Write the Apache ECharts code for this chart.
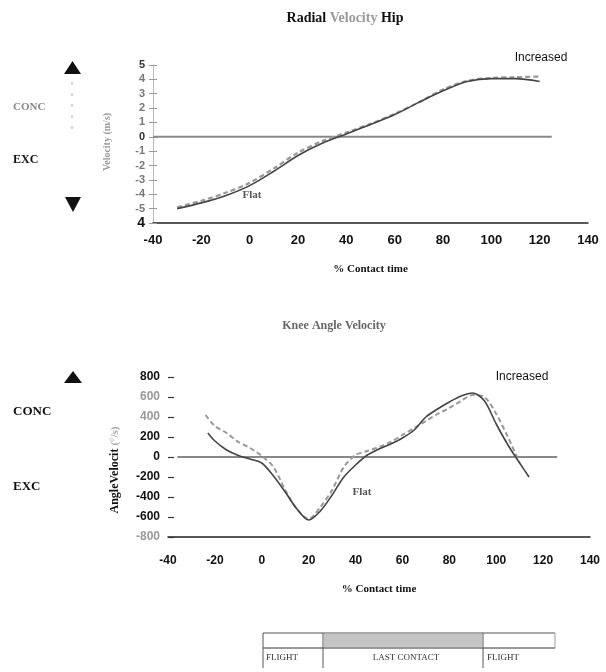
<!DOCTYPE html>
<html>
<head>
<meta charset="utf-8">
<script src="https://cdn.jsdelivr.net/npm/echarts@6/dist/echarts.min.js"></script>
<style>html,body{margin:0;padding:0;background:#fff;}#c{width:606px;height:672px;}</style>
</head>
<body>
<div id="c"></div>
<script>
// ---- data ----
const xTicks = [-40, -20, 0, 20, 40, 60, 80, 100, 120, 140];
const hipYTickLabels = ['4', '-5', '-4', '-3', '-2', '-1', '0', '1', '2', '3', '4', '5']; // values -6..5
const hipX = [-30, -20, -10, 0, 10, 20, 30, 40, 50, 60, 70, 80, 90, 100, 110, 120];
const hipSolid = [-5.0, -4.6, -4.1, -3.4, -2.4, -1.3, -0.45, 0.2, 0.85, 1.55, 2.4, 3.2, 3.85, 4.05, 4.05, 3.85];
const hipDashed = [-4.9, -4.45, -3.9, -3.2, -2.2, -1.1, -0.3, 0.3, 0.9, 1.6, 2.4, 3.3, 3.9, 4.1, 4.15, 4.2];
const hipZeroX = [-40, 125];
const kneeYTicks = [-800, -600, -400, -200, 0, 200, 400, 600, 800];
const kneeSolidX = [-23, -20, -15, -10, -5, 0, 5, 10, 15, 20, 25, 30, 35, 40, 45, 50, 55, 60, 65, 70, 75, 80, 85, 90, 95, 100, 105, 110, 114];
const kneeSolid = [240, 160, 70, 15, -20, -60, -190, -350, -520, -630, -540, -380, -200, -80, 20, 80, 130, 190, 270, 400, 480, 550, 610, 640, 560, 330, 120, -60, -200];
const kneeDashX = [-24, -20, -15, -10, -5, 0, 5, 10, 15, 20, 25, 30, 35, 40, 45, 50, 55, 60, 65, 70, 75, 80, 85, 90, 95, 100, 105, 110];
const kneeDashed = [420, 310, 240, 150, 90, 10, -100, -330, -520, -620, -500, -330, -100, 20, 60, 100, 150, 220, 290, 360, 430, 490, 560, 620, 600, 430, 200, -60];
const kneeZeroX = [-36, 126];

const pair = (xs, ys) => xs.map((x, i) => [x, ys[i]]);

const chart = echarts.init(document.getElementById('c'));
const sans = 'Liberation Sans';
const serif = 'Liberation Serif';

const xAxisCommon = {
  type: 'value', min: -40, max: 140, interval: 20,
  splitLine: { show: false },
  axisTick: { show: false },
  axisLine: { show: true, onZero: false, lineStyle: { color: '#222', width: 1.5 } },
  nameLocation: 'middle',
  nameTextStyle: { fontFamily: serif, fontWeight: 'bold', fontSize: 11, color: '#111' }
};

const option = {
  animation: false,
  backgroundColor: '#fff',
  grid: [
    { left: 153, right: 18, top: 65, bottom: 449 },
    { left: 168, right: 16, top: 377, bottom: 135 }
  ],
  xAxis: [
    Object.assign({}, xAxisCommon, {
      gridIndex: 0, name: '% Contact time', nameGap: 41,
      axisLabel: { margin: 11, fontFamily: sans, fontWeight: 'bold', fontSize: 13, color: '#111' }
    }),
    Object.assign({}, xAxisCommon, {
      gridIndex: 1, name: '% Contact time', nameGap: 47,
      axisLabel: { margin: 18, fontFamily: sans, fontWeight: 'bold', fontSize: 12, color: '#111' }
    })
  ],
  yAxis: [
    {
      gridIndex: 0, type: 'value', min: -6, max: 5, interval: 1, position: 'left',
      splitLine: { show: false },
      axisLine: { show: true, onZero: false, lineStyle: { color: '#bbb', width: 1 } },
      axisTick: { show: true, length: 4, lineStyle: { color: '#999' } },
      axisLabel: {
        margin: 8, fontFamily: sans, fontWeight: 'bold', fontSize: 11,
        formatter: v => {
          const s = hipYTickLabels[Math.round(v) + 6];
          if (v === -6) return '{big|' + s + '}';
          if (v === 0 || v === 5) return '{dark|' + s + '}';
          return '{g|' + s + '}';
        },
        rich: {
          big: { fontSize: 14, fontWeight: 'bold', color: '#111', fontFamily: sans },
          dark: { fontSize: 11, fontWeight: 'bold', color: '#333', fontFamily: sans },
          g: { fontSize: 11, fontWeight: 'bold', color: '#777', fontFamily: sans }
        }
      }
    },
    {
      gridIndex: 0, type: 'value', min: -6, max: 5, interval: 1, position: 'left', offset: 0,
      splitLine: { show: false },
      axisLine: { show: false, onZero: false },
      axisTick: { show: true, inside: true, length: 4, lineStyle: { color: '#999' } },
      axisLabel: { show: false }
    },
    {
      gridIndex: 1, type: 'value', min: -800, max: 800, interval: 200, position: 'left',
      splitLine: { show: false },
      axisLine: { show: false, onZero: false },
      axisTick: { show: true, inside: true, length: 6, lineStyle: { color: '#333', width: 1.2 } },
      axisLabel: {
        margin: 8, fontFamily: sans, fontWeight: 'bold', fontSize: 12,
        formatter: v => (v === 600 || v === 400 || v === -800) ? '{g|' + v + '}' : '{d|' + v + '}',
        rich: {
          d: { fontSize: 12, fontWeight: 'bold', color: '#111', fontFamily: sans },
          g: { fontSize: 12, fontWeight: 'bold', color: '#999', fontFamily: sans }
        }
      }
    }
  ],
  series: [
    { type: 'line', xAxisIndex: 0, yAxisIndex: 0, data: pair(hipZeroX, [0, 0]), symbol: 'none',
      lineStyle: { color: '#888', width: 2 } },
    { type: 'line', xAxisIndex: 0, yAxisIndex: 0, data: pair(hipX, hipDashed), symbol: 'none', smooth: 0.3,
      lineStyle: { color: '#999', width: 2.2, type: [5, 3] } },
    { type: 'line', xAxisIndex: 0, yAxisIndex: 0, data: pair(hipX, hipSolid), symbol: 'none', smooth: 0.3,
      lineStyle: { color: '#444', width: 1.6 } },
    { type: 'line', xAxisIndex: 1, yAxisIndex: 2, data: pair(kneeZeroX, [0, 0]), symbol: 'none',
      lineStyle: { color: '#888', width: 2 } },
    { type: 'line', xAxisIndex: 1, yAxisIndex: 2, data: pair(kneeDashX, kneeDashed), symbol: 'none', smooth: 0.3,
      lineStyle: { color: '#999', width: 2, type: [5, 3] } },
    { type: 'line', xAxisIndex: 1, yAxisIndex: 2, data: pair(kneeSolidX, kneeSolid), symbol: 'none', smooth: 0.3,
      lineStyle: { color: '#444', width: 1.6 } }
  ],
  graphic: [
    // titles
    { type: 'text', x: 345, y: 18, style: { text: '{a|Radial }{b|Velocity}{a| Hip}', align: 'center', verticalAlign: 'middle',
      rich: { a: { font: 'bold 14px ' + serif, fill: '#111' }, b: { font: 'bold 14px ' + serif, fill: '#999' } } } },
    { type: 'text', x: 334, y: 326, style: { text: 'Knee Angle Velocity', align: 'center', verticalAlign: 'middle',
      font: 'bold 12px ' + serif, fill: '#666' } },
    // top left markers
    { type: 'polygon', shape: { points: [[64, 74], [81, 74], [72.5, 61]] }, style: { fill: '#111' } },
    { type: 'polygon', shape: { points: [[65, 197], [81, 197], [73, 212]] }, style: { fill: '#111' } },
    { type: 'line', shape: { x1: 72, y1: 82, x2: 72, y2: 135 }, style: { stroke: '#ccc', lineWidth: 1.5, lineDash: [3, 8] } },
    { type: 'text', x: 13, y: 107, style: { text: 'CONC', verticalAlign: 'middle', font: 'bold 11px ' + serif, fill: '#888' } },
    { type: 'text', x: 13, y: 160, style: { text: 'EXC', verticalAlign: 'middle', font: 'bold 12px ' + serif, fill: '#111' } },
    { type: 'text', x: 107, y: 142, rotation: Math.PI / 2, style: { text: 'Velocity (m/s)', align: 'center', verticalAlign: 'middle',
      font: 'bold 10px ' + serif, fill: '#999' } },
    { type: 'text', x: 252, y: 195, style: { text: 'Flat', align: 'center', verticalAlign: 'middle', font: 'bold 11px ' + serif, fill: '#555' } },
    { type: 'text', x: 541, y: 58, style: { text: 'Increased', align: 'center', verticalAlign: 'middle', font: '12px ' + sans, fill: '#111' } },
    // bottom left markers
    { type: 'polygon', shape: { points: [[64, 383], [82, 383], [73, 371]] }, style: { fill: '#111' } },
    { type: 'text', x: 13, y: 412, style: { text: 'CONC', verticalAlign: 'middle', font: 'bold 13px ' + serif, fill: '#111' } },
    { type: 'text', x: 13, y: 487, style: { text: 'EXC', verticalAlign: 'middle', font: 'bold 13px ' + serif, fill: '#111' } },
    { type: 'text', x: 115, y: 470, rotation: Math.PI / 2, style: { text: '{a|AngleVelocit }{b|(°/s)}', align: 'center', verticalAlign: 'middle',
      rich: { a: { font: 'bold 12px ' + serif, fill: '#111' }, b: { font: 'bold 11px ' + serif, fill: '#aaa' } } } },
    { type: 'text', x: 362, y: 492, style: { text: 'Flat', align: 'center', verticalAlign: 'middle', font: 'bold 11px ' + serif, fill: '#555' } },
    { type: 'text', x: 522, y: 377, style: { text: 'Increased', align: 'center', verticalAlign: 'middle', font: '12px ' + sans, fill: '#111' } },
    // phase table
    { type: 'rect', shape: { x: 324, y: 634, width: 158, height: 13 }, style: { fill: '#c4c4c4' } },
    { type: 'line', shape: { x1: 263, y1: 633, x2: 555, y2: 633 }, style: { stroke: '#555', lineWidth: 1.2 } },
    { type: 'line', shape: { x1: 263, y1: 648, x2: 555, y2: 648 }, style: { stroke: '#333', lineWidth: 1.2 } },
    { type: 'line', shape: { x1: 263, y1: 633, x2: 263, y2: 668 }, style: { stroke: '#555', lineWidth: 1 } },
    { type: 'line', shape: { x1: 323, y1: 633, x2: 323, y2: 668 }, style: { stroke: '#555', lineWidth: 1 } },
    { type: 'line', shape: { x1: 483, y1: 633, x2: 483, y2: 668 }, style: { stroke: '#555', lineWidth: 1 } },
    { type: 'line', shape: { x1: 555, y1: 633, x2: 555, y2: 648 }, style: { stroke: '#999', lineWidth: 1 } },
    { type: 'text', x: 266, y: 658, style: { text: 'FLIGHT', verticalAlign: 'middle', font: '9px ' + serif, fill: '#333' } },
    { type: 'text', x: 406, y: 658, style: { text: 'LAST CONTACT', align: 'center', verticalAlign: 'middle', font: '9px ' + serif, fill: '#333' } },
    { type: 'text', x: 487, y: 658, style: { text: 'FLIGHT', verticalAlign: 'middle', font: '9px ' + serif, fill: '#333' } }
  ]
};
chart.setOption(option);
</script>
</body>
</html>
